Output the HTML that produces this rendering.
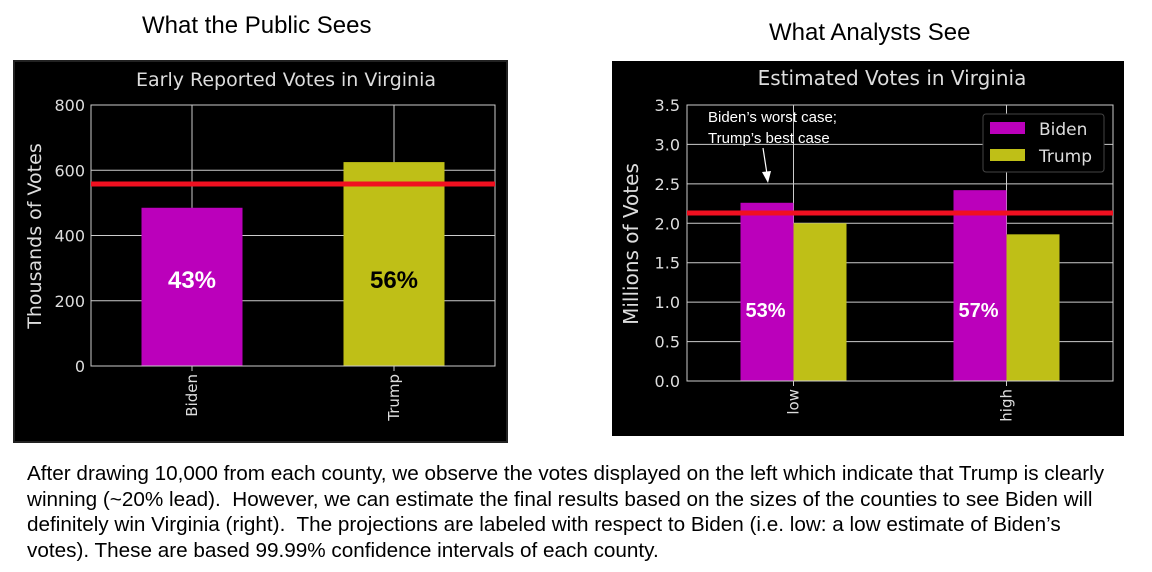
<!DOCTYPE html>
<html><head><meta charset="utf-8"><style>
body{margin:0;width:1152px;height:572px;background:#fff;overflow:hidden;font-family:"Liberation Sans",sans-serif}
.h{position:absolute;font-size:24px;color:#000}
#cap{position:absolute;left:27px;top:461px;width:1085px;font-size:20.7px;line-height:25.5px;color:#000}
</style></head><body>
<div class="h" style="left:142px;top:12px">What the Public Sees</div>
<div class="h" style="left:769px;top:19px">What Analysts See</div>
<svg width="1152" height="460" style="position:absolute;left:0;top:0" id="svg"></svg>
<div id="cap">After drawing 10,000 from each county, we observe the votes displayed on the left which indicate that Trump is clearly winning (~20% lead).&nbsp; However, we can estimate the final results based on the sizes of the counties to see Biden will definitely win Virginia (right).&nbsp; The projections are labeled with respect to Biden (i.e. low: a low estimate of Biden’s votes). These are based 99.99% confidence intervals of each county.</div>
<script>
const leftCats=["Biden","Trump"];
const leftVals=[485,625];
const leftPct=["43%","56%"];
const leftTicks=[0,200,400,600,800];
const leftRef=[558];
const rightCats=["low","high"];
const rightBiden=[2.26,2.42];
const rightTrump=[2.0,1.86];
const rightPct=["53%","57%"];
const rightTicks=["0.0","0.5","1.0","1.5","2.0","2.5","3.0","3.5"];
const rightRef=[2.13];
const NS="http://www.w3.org/2000/svg",svg=document.getElementById('svg');
function mk(t,a,txt,name){const e=document.createElementNS(NS,t);for(const k in a)e.setAttribute(k,a[k]);if(txt!=null)e.textContent=txt;


svg.appendChild(e);return e;}
const F='"DejaVu Sans",sans-serif',G='#ccc',MAG='#bb00bb',OLV='#bfbf17';
mk('rect',{x:14,y:61,width:493,height:381,fill:'#000',stroke:'#222','stroke-width':2},null,'left-chart-bg');
const L={x0:91,x1:495,y0:366,y1:105,max:800};
const ly=v=>L.y0-(v/L.max)*(L.y0-L.y1);
const lx=i=>L.x0+(L.x1-L.x0)*(0.25+0.5*i);
mk('text',{x:286,y:86,fill:'#ddd','font-size':19,'font-family':F,'text-anchor':'middle'},'Early Reported Votes in Virginia','left-title');
leftTicks.forEach(t=>{mk('line',{x1:L.x0,x2:L.x1,y1:ly(t),y2:ly(t),stroke:G,'stroke-width':1},null,'left-gridline');
mk('text',{x:L.x0-6,y:ly(t)+6,fill:'#ddd','font-size':16,'font-family':F,'text-anchor':'end'},t,'left-y-tick');});
leftCats.forEach((c,i)=>{mk('line',{x1:lx(i),x2:lx(i),y1:L.y1,y2:L.y0+5,stroke:G},null,'left-vgrid');
const w=101;mk('rect',{x:lx(i)-w/2,y:ly(leftVals[i]),width:w,height:L.y0-ly(leftVals[i]),fill:i?OLV:MAG},null,'bar-'+c.toLowerCase());
mk('text',{x:lx(i),y:288,fill:i?'#000':'#fff','font-size':24,'font-weight':'bold','font-family':'"Liberation Sans",sans-serif','text-anchor':'middle'},leftPct[i],'pct-label');
mk('text',{x:0,y:0,fill:'#ddd','font-size':15,'font-family':F,'text-anchor':'end',transform:`translate(${lx(i)+5},374) rotate(-90)`},c,'left-x-tick');});
mk('rect',{x:L.x0,y:L.y1,width:L.x1-L.x0,height:L.y0-L.y1,fill:'none',stroke:G},null,'left-plot-frame');
mk('line',{x1:L.x0,x2:L.x1,y1:ly(leftRef[0]),y2:ly(leftRef[0]),stroke:'#f01020','stroke-width':5},null,'left-red-line');
mk('text',{x:0,y:0,fill:'#ddd','font-size':19,'font-family':F,'text-anchor':'middle',transform:'translate(41,236) rotate(-90)'},'Thousands of Votes','left-y-axis-title');
mk('rect',{x:612,y:61,width:512,height:375,fill:'#000'},null,'right-chart-bg');
const R={x0:687,x1:1113,y0:381,y1:105,max:3.5};
const ry=v=>R.y0-(v/R.max)*(R.y0-R.y1);
const rx=i=>R.x0+(R.x1-R.x0)*(0.25+0.5*i);
mk('text',{x:892,y:85,fill:'#ddd','font-size':20,'font-family':F,'text-anchor':'middle'},'Estimated Votes in Virginia','right-title');
rightTicks.forEach(t=>{mk('line',{x1:R.x0,x2:R.x1,y1:ry(+t),y2:ry(+t),stroke:G},null,'right-gridline');
mk('text',{x:R.x0-7,y:ry(+t)+6,fill:'#ddd','font-size':16,'font-family':F,'text-anchor':'end'},t,'right-y-tick');});
rightCats.forEach((c,i)=>{mk('line',{x1:rx(i),x2:rx(i),y1:R.y1,y2:R.y0+5,stroke:G},null,'right-vgrid');
const w=53;
mk('rect',{x:rx(i)-w,y:ry(rightBiden[i]),width:w,height:R.y0-ry(rightBiden[i]),fill:MAG},null,'bar-biden-'+c);
mk('rect',{x:rx(i),y:ry(rightTrump[i]),width:w,height:R.y0-ry(rightTrump[i]),fill:OLV},null,'bar-trump-'+c);
mk('text',{x:rx(i)-28,y:317,fill:'#fff','font-size':20,'font-weight':'bold','font-family':'"Liberation Sans",sans-serif','text-anchor':'middle'},rightPct[i],'pct-label');
mk('text',{x:0,y:0,fill:'#ddd','font-size':15,'font-family':F,'text-anchor':'end',transform:`translate(${rx(i)+5},389) rotate(-90)`},c,'right-x-tick');});
mk('rect',{x:R.x0,y:R.y1,width:R.x1-R.x0,height:R.y0-R.y1,fill:'none',stroke:G},null,'right-plot-frame');
mk('line',{x1:R.x0,x2:R.x1,y1:ry(rightRef[0]),y2:ry(rightRef[0]),stroke:'#f01020','stroke-width':5},null,'right-red-line');
mk('text',{x:0,y:0,fill:'#ddd','font-size':20,'font-family':F,'text-anchor':'middle',transform:'translate(638,244) rotate(-90)'},'Millions of Votes','right-y-axis-title');
mk('rect',{x:983,y:114,width:121,height:58,rx:3,fill:'#000',stroke:'#444'},null,'legend-box');
mk('rect',{x:990,y:122,width:35,height:12,fill:MAG},null,'legend-swatch-biden');
mk('text',{x:1039,y:135,fill:'#ddd','font-size':17,'font-family':F},'Biden','legend-entry-biden');
mk('rect',{x:990,y:149,width:35,height:12,fill:OLV},null,'legend-swatch-trump');
mk('text',{x:1039,y:162,fill:'#ddd','font-size':17,'font-family':F},'Trump','legend-entry-trump');
mk('text',{x:708,y:122,fill:'#fff','font-size':15,'font-family':'"Liberation Sans",sans-serif'},'Biden’s worst case;','annotation-line1');
mk('text',{x:708,y:143,fill:'#fff','font-size':15,'font-family':'"Liberation Sans",sans-serif'},'Trump’s best case','annotation-line2');
mk('line',{x1:763,y1:148,x2:767,y2:174,stroke:'#fff','stroke-width':1.2},null,'annotation-arrow');
mk('path',{d:'M762,172 L768,183 L771,171 Z',fill:'#fff'},null,'annotation-arrowhead');
</script>
</body></html>
